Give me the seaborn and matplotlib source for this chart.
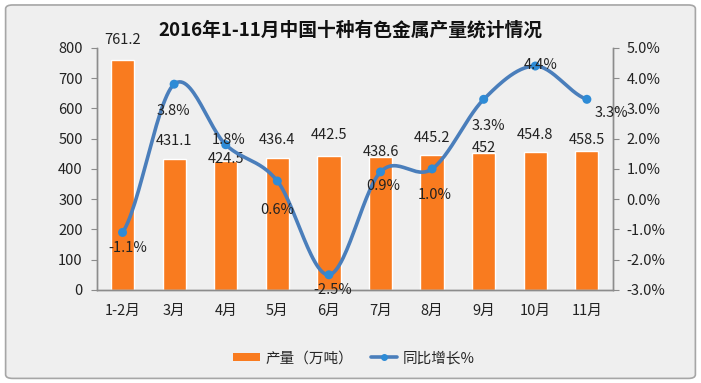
"""
2016年1-11月中国十种有色金属产量统计情况 - bar + smoothed line on twin axes
"""

import numpy as np
import seaborn as sns
from matplotlib import pyplot as plt
from matplotlib.lines import Line2D
from matplotlib.patches import Patch, FancyBboxPatch

# data
months = ["1-2月", "3月", "4月", "5月", "6月", "7月", "8月", "9月", "10月", "11月"]
output = [761.2, 431.1, 424.5, 436.4, 442.5, 438.6, 445.2, 452, 454.8, 458.5]
growth = [-1.1, 3.8, 1.8, 0.6, -2.5, 0.9, 1.0, 3.3, 4.4, 3.3]

# label placement (pixels), like the hand-moved labels of the original
bar_lab_dy = [20, 18, 2, 18, 21, 5, 17, 5, 17, 11]
pct_lab_off = [(5, -16), (-1, -27), (3, 5), (0, -29), (4, -15),
               (3, -14), (3, -26), (5, -27), (5, 1), (25, -14)]

BG = "#EFEFEF"
ORANGE = "#F97B1F"
BLUE = "#4A7EBB"
DOT = "#2E8BD6"
SPINE = "#8C8C8C"

sns.set_style("white")
plt.rcParams["font.family"] = ["Noto Sans CJK SC", "DejaVu Sans"]


def smooth(y, n=30):
    """catmull-rom style curve through the points (like Excel smoothed line)"""
    y = np.asarray(y, dtype=float)
    x = np.arange(len(y), dtype=float)
    px = np.concatenate([[2 * x[0] - x[1]], x, [2 * x[-1] - x[-2]]])
    py = np.concatenate([[y[0]], y, [y[-1]]])
    xs, ys = [], []
    for i in range(1, len(px) - 2):
        t = np.linspace(0, 1, n)
        p0, p1, p2, p3 = py[i - 1], py[i], py[i + 1], py[i + 2]
        c1 = p1 + (p2 - p0) / 6
        c2 = p2 - (p3 - p1) / 6
        ys.append((1 - t) ** 3 * p1 + 3 * (1 - t) ** 2 * t * c1
                  + 3 * (1 - t) * t ** 2 * c2 + t ** 3 * p2)
        xs.append(px[i] + t * (px[i + 1] - px[i]))
    return np.concatenate(xs), np.concatenate(ys)


def main():
    fig = plt.figure(figsize=(7.01, 3.83), dpi=100)
    fig.patch.set_facecolor("white")
    fig.patches.append(FancyBboxPatch((0.008, 0.012), 0.984, 0.975,
                                      boxstyle="round,pad=0,rounding_size=0.01",
                                      transform=fig.transFigure,
                                      facecolor=BG, edgecolor="#A6A6A6",
                                      linewidth=1.2, zorder=-10))

    ax = fig.add_axes([0.138, 0.243, 0.736, 0.632])
    ax.set_facecolor("none")
    sns.barplot(x=months, y=output, color=ORANGE, width=0.45,
                saturation=1, ax=ax, zorder=2)
    ax.set_ylim(0, 800)
    ax.set_xlim(-0.5, len(months) - 0.5)
    ax.set_yticks(np.arange(0, 801, 100))

    for i, v in enumerate(output):
        ax.annotate(f"{v:g}", (i, v), xytext=(0, bar_lab_dy[i]),
                    textcoords="offset pixels", ha="center", va="center",
                    fontsize=10.5, color="#222222", zorder=5)

    ax2 = ax.twinx()
    ax2.set_ylim(-3, 5)
    ax2.set_yticks(np.arange(-3, 5.1, 1))
    ax2.set_yticklabels([f"{t:.1f}%" for t in np.arange(-3, 5.1, 1)])
    sx, sy = smooth(growth)
    ax2.plot(sx, sy, color=BLUE, linewidth=2.6, zorder=3, solid_capstyle="round")
    sns.scatterplot(x=np.arange(len(growth)), y=growth, color=DOT, s=42,
                    edgecolor="none", ax=ax2, zorder=4)
    for i, v in enumerate(growth):
        ax2.annotate(f"{v:.1f}%", (i, v), xytext=pct_lab_off[i],
                     textcoords="offset pixels", ha="center", va="center",
                     fontsize=10.5, color="#222222", zorder=5)

    # axes styling
    for a in (ax, ax2):
        for s in a.spines.values():
            s.set_color(SPINE)
            s.set_linewidth(1)
        a.spines["top"].set_visible(False)
    ax.set_xticks(np.arange(len(months)))
    ax.set_xticklabels(months)
    ax.set_xticks(np.arange(-0.5, len(months), 1), minor=True)
    ax.tick_params(axis="x", which="major", length=0, pad=10,
                   labelsize=10.5, labelcolor="#222222")
    ax.tick_params(axis="x", which="minor", length=5, direction="out",
                   color=SPINE)
    ax.tick_params(axis="y", length=4, direction="out", color=SPINE,
                   labelsize=10.5, labelcolor="#222222", pad=6)
    ax2.tick_params(axis="y", length=4, direction="out", color=SPINE,
                    labelsize=10.5, labelcolor="#222222", pad=6)
    ax.set_xlabel("")
    ax.set_ylabel("")

    fig.text(0.5, 0.922, "2016年1-11月中国十种有色金属产量统计情况",
             ha="center", va="center", fontsize=13.5, fontweight="bold",
             color="#111111")

    handles = [Patch(facecolor=ORANGE, edgecolor="none"),
               Line2D([], [], color=BLUE, linewidth=2.6, marker="o",
                      markersize=4, markerfacecolor=DOT, markeredgecolor=DOT)]
    fig.legend(handles, ["产量（万吨）", "同比增长%"], loc="center",
               bbox_to_anchor=(0.505, 0.065), ncol=2, frameon=False,
               fontsize=10.5, handlelength=1.8, handleheight=0.5,
               columnspacing=1.2, handletextpad=0.4)

    plt.savefig("out.png", dpi=100, facecolor=fig.get_facecolor())


if __name__ == "__main__":
    main()
